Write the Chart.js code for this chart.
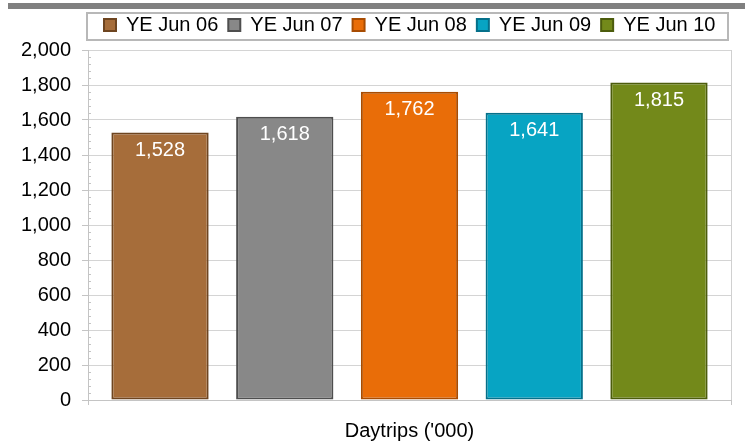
<!DOCTYPE html>
<html>
<head>
<meta charset="utf-8">
<script src="https://cdn.jsdelivr.net/npm/chart.js@4.4.0/dist/chart.umd.min.js"></script>
<style>
  html, body { margin: 0; padding: 0; background: #ffffff; }
  #wrap { width: 745px; height: 442px; position: relative; }
</style>
</head>
<body>
<div id="wrap"><canvas id="c" width="745" height="442"></canvas></div>
<script>
const categories = ["Daytrips ('000)"];
const seriesNames = ["YE Jun 06", "YE Jun 07", "YE Jun 08", "YE Jun 09", "YE Jun 10"];
const seriesValues = [1528, 1618, 1762, 1641, 1815];
const yTicks = [0, 200, 400, 600, 800, 1000, 1200, 1400, 1600, 1800, 2000];

const fillColors = ["#A66D3A", "#888888", "#E96D08", "#07A4C3", "#73891A"];
const edgeColors = ["#6E4520", "#4E4E4E", "#A84C02", "#05708A", "#4C5C0D"];

const FONT = "'Liberation Sans', Arial, sans-serif";

const datasets = seriesNames.map((name, i) => ({
  label: name,
  data: [seriesValues[i]],
  backgroundColor: fillColors[i],
  borderColor: edgeColors[i],
  borderWidth: 2,
  borderSkipped: false,
  categoryPercentage: 0.97,
  barPercentage: 0.78
}));

const decorPlugin = {
  id: 'decor',
  beforeDraw(chart) {
    const ctx = chart.ctx;
    ctx.save();
    ctx.fillStyle = '#ffffff';
    ctx.fillRect(0, 0, chart.width, chart.height);
    ctx.fillStyle = '#808080';
    ctx.fillRect(8, 3, chart.width - 8, 6);
    // legend frame
    ctx.strokeStyle = '#b8b8b8';
    ctx.lineWidth = 2;
    ctx.strokeRect(87, 13, 641, 27);
    ctx.restore();
    // reposition legend so all items sit on one row starting at x=104
    const lg = chart.legend;
    if (lg && lg.lineWidths) {
      const pad = lg.options.labels.padding;
      const total = lg.lineWidths.reduce((a, b) => a + b, 0);
      lg.lineWidths = [total];
      lg.right = 3000;
      lg.left = 2 * 104 - pad - lg.right + total;
      lg.top = 5;
    }
  },
  afterDatasetsDraw(chart) {
    const ctx = chart.ctx;
    const y = chart.scales.y;
    const ca = chart.chartArea;
    ctx.save();
    // minor ticks
    ctx.strokeStyle = '#c4c4c4';
    ctx.lineWidth = 1;
    for (let v = 0; v <= 2000; v += 40) {
      if (v % 200 === 0) continue;
      const py = Math.round(y.getPixelForValue(v)) + 0.5;
      ctx.beginPath();
      ctx.moveTo(ca.left, py);
      ctx.lineTo(ca.left + 3, py);
      ctx.stroke();
    }
    // value labels
    ctx.fillStyle = '#ffffff';
    ctx.font = '20px ' + FONT;
    ctx.textAlign = 'center';
    ctx.textBaseline = 'middle';
    chart.data.datasets.forEach((ds, i) => {
      const meta = chart.getDatasetMeta(i);
      meta.data.forEach((el, j) => {
        const val = ds.data[j];
        ctx.fillText(val.toLocaleString('en-US'), el.x, el.y + 18);
      });
    });
    ctx.restore();
  }
};

new Chart(document.getElementById('c'), {
  type: 'bar',
  data: { labels: categories, datasets: datasets },
  options: {
    responsive: false,
    animation: false,
    devicePixelRatio: 1,
    layout: { padding: { left: 0, right: 14, top: 10, bottom: 0 } },
    plugins: {
      legend: {
        display: true,
        position: 'top',
        align: 'center',
        labels: {
          boxWidth: 12,
          boxHeight: 12,
          padding: 10,
          color: '#000000',
          font: { family: FONT, size: 20 }
        }
      },
      tooltip: { enabled: false }
    },
    scales: {
      x: {
        afterFit(scale) { scale.height = 42; },
        grid: {
          display: true,
          offset: true,
          color: '#d0d0d0',
          tickLength: 5,
          drawTicks: true,
          tickColor: '#c4c4c4'
        },
        border: { display: true, color: '#c4c4c4' },
        ticks: {
          padding: 14,
          color: '#000000',
          font: { family: FONT, size: 20 }
        }
      },
      y: {
        min: 0,
        max: 2000,
        afterFit(scale) { scale.width = 88; },
        afterBuildTicks(scale) { scale.ticks = yTicks.map(v => ({ value: v })); },
        grid: {
          color: '#d4d4d4',
          tickLength: 6,
          tickColor: '#c4c4c4'
        },
        border: { display: true, color: '#c4c4c4' },
        ticks: {
          padding: 11,
          color: '#000000',
          font: { family: FONT, size: 20 },
          callback: (v) => Number(v).toLocaleString('en-US')
        }
      }
    }
  },
  plugins: [decorPlugin]
});
</script>
</body>
</html>
